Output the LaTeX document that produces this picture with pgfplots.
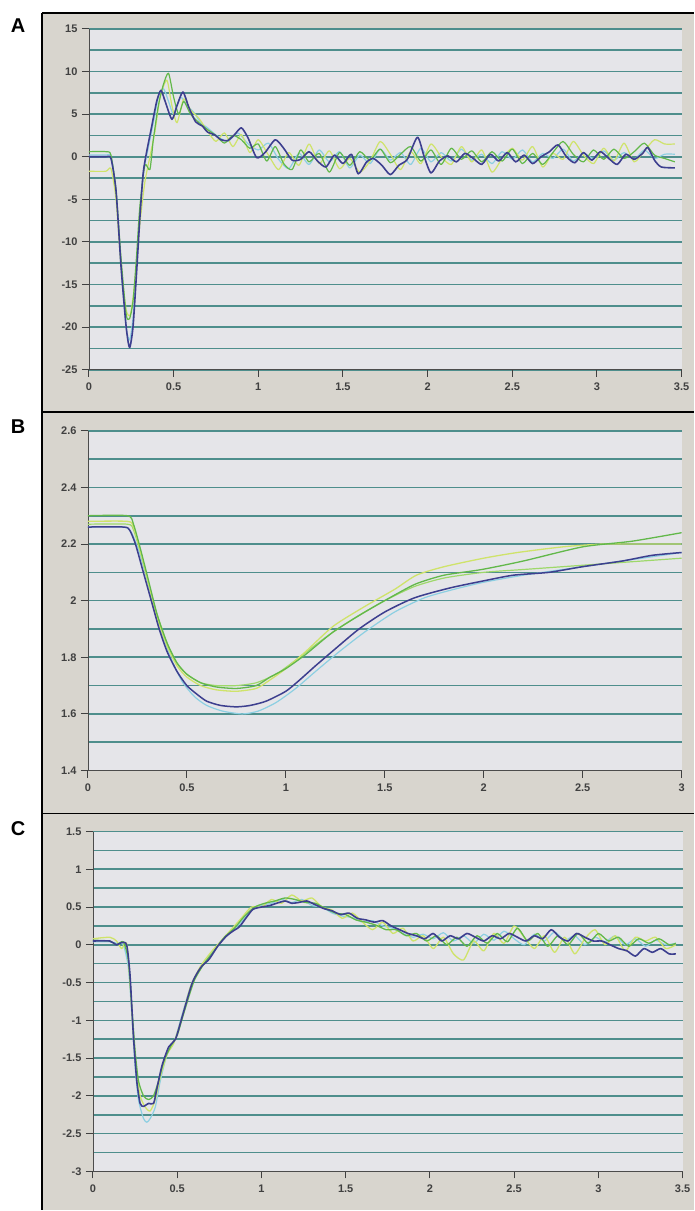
\documentclass[border=0pt]{standalone}
\usepackage{fontspec}
\setmainfont{Liberation Sans}
\usepackage{pgfplots}
\pgfplotsset{compat=1.18}

\definecolor{framebg}{HTML}{D8D5CE}
\definecolor{plotbg}{HTML}{E5E5E9}
\definecolor{gridteal}{HTML}{4E8E8C}
\definecolor{cblue}{HTML}{3D3F8F}
\definecolor{cgreen}{HTML}{62B84A}
\definecolor{cyellow}{HTML}{CFE36A}
\definecolor{clblue}{HTML}{8CCFE2}
\definecolor{clgreen}{HTML}{9ED86A}
\definecolor{ticktext}{HTML}{404040}

% 1 px of the reference = 1 pt here
\pgfplotsset{
  panel/.style={
    scale only axis,
    axis background/.style={fill=plotbg},
    axis x line*=bottom,
    axis y line*=left,
    axis line style={draw=gray!60!black, line width=0.7pt},
    tick align=outside,
    major tick length=7pt,
    minor tick length=0pt,
    tick style={draw=ticktext, line width=1pt},
    ymajorgrids, yminorgrids,
    major grid style={draw=gridteal, line width=1.6pt},
    minor grid style={draw=gridteal, line width=1.6pt},
    tick label style={font=\fontsize{11}{13}\selectfont\bfseries, text=ticktext},
    /pgf/number format/assume math mode=true,
    /pgf/number format/fixed,
    xticklabel style={yshift=-3pt},
    yticklabel style={xshift=-1pt},
    enlargelimits=false,
    clip=true,
  },
  trace/.style={no markers, smooth, tension=0.4, line join=round},
}

\begin{document}
\begin{tikzpicture}
% frame of the figure
\fill[framebg] (42pt,0pt) rectangle (694pt,-1211pt);
\fill[white] (0pt,0pt) rectangle (694pt,-13pt);
\draw[black, line width=1.6pt] (42pt,-13pt) -- (694pt,-13pt);
\draw[black, line width=1.6pt] (42pt,-412pt) -- (694pt,-412pt);
\draw[black, line width=1.6pt] (42pt,-814pt) -- (694pt,-814pt);
\draw[black, line width=1.4pt] (42pt,-13pt) -- (42pt,-1211pt);
\node[font=\fontsize{20}{22}\selectfont\bfseries] at (18pt,-26pt) {A};
\node[font=\fontsize{20}{22}\selectfont\bfseries] at (18pt,-427pt) {B};
\node[font=\fontsize{20}{22}\selectfont\bfseries] at (18pt,-829pt) {C};

% ---------- A ----------
\begin{axis}[panel, at={(89pt,-29pt)}, anchor=north west, width=593pt, height=341pt,
  xmin=0, xmax=3.5, ymin=-25, ymax=15,
  xtick={0,0.5,...,3.5}, ytick={-25,-20,...,15},
  minor ytick={-22.5,-17.5,...,12.5}]
\addplot[trace, clblue, line width=1.2pt] coordinates {
(0,0.2)(0.1,0.2)(0.13,0)(0.16,-4)(0.19,-13)(0.22,-20)(0.24,-21.5)(0.26,-19)(0.28,-13)(0.30,-7)(0.32,-2)(0.35,1)(0.38,4)(0.41,7)(0.44,8)(0.47,6.5)(0.50,5)(0.54,7)(0.58,6)(0.62,5.2)(0.66,4)(0.70,3.4)(0.76,2.4)(0.82,1.8)(0.88,2.8)(0.94,1.5)(1.0,0.8)(1.06,1.6)(1.12,-0.3)(1.18,-1.4)(1.24,0.4)(1.30,-0.9)(1.36,0.8)(1.42,-0.6)(1.48,0.6)(1.54,-1.3)(1.60,0.2)(1.66,-0.8)(1.72,0.9)(1.78,-0.4)(1.84,0.5)(1.90,-0.9)(1.96,1.0)(2.02,-0.6)(2.08,0.5)(2.14,-0.5)(2.20,0.9)(2.26,-0.4)(2.32,0.3)(2.38,-0.8)(2.44,0.6)(2.50,-0.3)(2.56,0.8)(2.62,-0.6)(2.68,0.4)(2.74,-0.2)(2.80,0.9)(2.86,-0.5)(2.92,0.4)(2.98,-0.2)(3.04,0.7)(3.10,-0.4)(3.16,0.5)(3.22,-0.3)(3.28,0.8)(3.34,-0.2)(3.40,0.3)(3.46,0.3)};
\addplot[trace, cyellow, line width=1.2pt] coordinates {
(0,-1.7)(0.1,-1.7)(0.13,-1.4)(0.16,-5)(0.19,-13)(0.22,-18)(0.245,-18.5)(0.27,-15)(0.30,-8)(0.33,-3)(0.36,0.0)(0.39,3)(0.42,7)(0.46,9)(0.49,6)(0.52,4.0)(0.56,6.8)(0.60,5.5)(0.65,4.5)(0.70,3)(0.75,1.8)(0.80,2.8)(0.85,1.2)(0.90,2.6)(0.95,0.5)(1.0,2.0)(1.06,0.2)(1.12,-1.5)(1.18,0.5)(1.24,-1.0)(1.30,1.5)(1.36,-0.8)(1.42,0.7)(1.48,-1.4)(1.54,-0.2)(1.60,-1.8)(1.66,-0.5)(1.72,1.8)(1.78,0.3)(1.84,-1.5)(1.90,0.6)(1.96,-0.8)(2.02,1.5)(2.08,0.0)(2.14,-0.9)(2.20,1.2)(2.26,-0.6)(2.32,0.8)(2.38,-1.8)(2.44,-0.2)(2.50,1.0)(2.56,-0.4)(2.62,1.2)(2.68,-1.2)(2.74,0.4)(2.80,-0.3)(2.86,1.8)(2.92,0.2)(2.98,-0.8)(3.04,1.0)(3.10,-0.5)(3.16,1.6)(3.22,-0.6)(3.28,0.7)(3.34,2.0)(3.40,1.5)(3.46,1.5)};
\addplot[trace, cgreen, line width=1.2pt] coordinates {
(0,0.6)(0.1,0.6)(0.13,0.2)(0.16,-4)(0.19,-12)(0.22,-18.5)(0.24,-19)(0.26,-17)(0.28,-12)(0.30,-6)(0.33,-1)(0.36,-1.5)(0.38,2)(0.41,6)(0.44,8.5)(0.47,9.8)(0.50,7)(0.53,5)(0.56,6.5)(0.60,5)(0.65,4)(0.70,3.2)(0.75,2.5)(0.80,1.6)(0.85,2.5)(0.90,2.0)(0.95,1.0)(1.0,1.5)(1.05,-0.5)(1.10,1.2)(1.15,-0.8)(1.20,-1.5)(1.25,0.8)(1.30,-0.6)(1.36,0.4)(1.42,-1.8)(1.48,0.5)(1.54,-1.0)(1.60,0.6)(1.66,-0.4)(1.72,0.9)(1.78,-0.7)(1.84,0.3)(1.90,1.2)(1.96,-0.5)(2.02,0.8)(2.08,-0.9)(2.14,1.0)(2.20,-0.3)(2.26,0.7)(2.32,-0.6)(2.38,0.6)(2.44,-0.5)(2.50,0.9)(2.56,-0.8)(2.62,0.4)(2.68,-0.9)(2.74,0.5)(2.80,1.8)(2.86,0.3)(2.92,-0.6)(2.98,0.8)(3.04,-0.3)(3.10,0.9)(3.16,-0.2)(3.22,0.6)(3.28,1.6)(3.34,0.2)(3.40,-0.2)(3.46,-0.6)};
\addplot[trace, cblue, line width=1.6pt] coordinates {
(0,0)(0.1,0)(0.13,-0.2)(0.16,-4)(0.19,-13)(0.22,-20)(0.24,-22.4)(0.26,-20)(0.28,-14)(0.30,-7.4)(0.32,-2)(0.34,0.5)(0.37,3.5)(0.40,6.5)(0.425,7.8)(0.45,6.5)(0.49,4.4)(0.52,6)(0.555,7.6)(0.59,5.8)(0.63,4.1)(0.67,3.6)(0.70,2.9)(0.74,2.6)(0.78,2.0)(0.82,1.9)(0.86,2.6)(0.90,3.4)(0.94,2.2)(0.99,-0.1)(1.04,0.5)(1.10,2.0)(1.15,1.0)(1.20,-0.4)(1.25,-0.3)(1.30,0.6)(1.35,-0.5)(1.40,-1.2)(1.45,0.2)(1.50,-0.8)(1.55,0.3)(1.59,-2.0)(1.64,-0.6)(1.68,-0.2)(1.73,-1.0)(1.78,-2.1)(1.83,-1.0)(1.88,-0.3)(1.94,2.3)(1.98,0.0)(2.02,-1.9)(2.07,-0.5)(2.12,0.1)(2.17,-0.6)(2.22,0.4)(2.27,-0.2)(2.32,-0.9)(2.37,0.3)(2.42,-0.5)(2.47,0.5)(2.52,-0.6)(2.57,0.2)(2.62,-0.8)(2.67,0.0)(2.72,0.6)(2.77,1.4)(2.82,0.0)(2.87,-0.7)(2.92,0.5)(2.97,-0.4)(3.02,0.6)(3.07,-0.2)(3.12,-0.9)(3.17,0.3)(3.22,-0.3)(3.27,0.4)(3.30,1.1)(3.34,-0.4)(3.38,-1.2)(3.46,-1.3)};
\end{axis}

% ---------- B ----------
\begin{axis}[panel, at={(88pt,-431pt)}, anchor=north west, width=594pt, height=340pt,
  xmin=0, xmax=3, ymin=1.4, ymax=2.6,
  xtick={0,0.5,1,1.5,2,2.5,3}, ytick={1.4,1.6,1.8,2,2.2,2.4,2.6},
  minor ytick={1.5,1.7,1.9,2.1,2.3,2.5}]
\addplot[trace, clblue, line width=1.2pt] coordinates {
(0,2.26)(0.18,2.26)(0.22,2.24)(0.26,2.17)(0.30,2.07)(0.34,1.96)(0.38,1.87)(0.43,1.78)(0.48,1.71)(0.54,1.66)(0.60,1.63)(0.68,1.61)(0.78,1.60)(0.86,1.61)(0.95,1.64)(1.05,1.69)(1.15,1.75)(1.27,1.82)(1.40,1.89)(1.55,1.96)(1.70,2.01)(1.85,2.04)(2.0,2.065)(2.2,2.09)(2.4,2.11)(2.6,2.13)(2.8,2.15)(3.0,2.17)};
\addplot[trace, clgreen, line width=1.2pt] coordinates {
(0,2.27)(0.2,2.27)(0.23,2.25)(0.27,2.16)(0.31,2.05)(0.35,1.95)(0.40,1.85)(0.45,1.78)(0.50,1.74)(0.57,1.71)(0.65,1.70)(0.75,1.70)(0.85,1.71)(0.95,1.74)(1.05,1.79)(1.2,1.87)(1.35,1.94)(1.5,2.0)(1.65,2.05)(1.8,2.08)(2.0,2.10)(2.2,2.11)(2.4,2.12)(2.6,2.13)(2.8,2.14)(3.0,2.15)};
\addplot[trace, cyellow, line width=1.3pt] coordinates {
(0,2.28)(0.2,2.28)(0.23,2.26)(0.27,2.16)(0.31,2.05)(0.35,1.94)(0.40,1.84)(0.45,1.77)(0.50,1.73)(0.57,1.70)(0.65,1.685)(0.75,1.68)(0.85,1.69)(0.92,1.72)(1.0,1.76)(1.1,1.82)(1.24,1.91)(1.4,1.98)(1.55,2.04)(1.66,2.09)(1.8,2.12)(2.0,2.15)(2.17,2.17)(2.4,2.19)(2.6,2.2)(2.8,2.2)(3.0,2.2)};
\addplot[trace, cgreen, line width=1.3pt] coordinates {
(0,2.30)(0.2,2.30)(0.23,2.27)(0.27,2.17)(0.31,2.06)(0.35,1.95)(0.40,1.85)(0.45,1.78)(0.50,1.74)(0.57,1.71)(0.65,1.695)(0.75,1.69)(0.85,1.70)(0.92,1.73)(1.0,1.76)(1.1,1.81)(1.24,1.89)(1.4,1.96)(1.55,2.02)(1.66,2.06)(1.8,2.09)(1.99,2.11)(2.2,2.14)(2.5,2.19)(2.75,2.21)(3.0,2.24)};
\addplot[trace, cblue, line width=1.5pt] coordinates {
(0,2.26)(0.18,2.26)(0.21,2.25)(0.24,2.2)(0.28,2.1)(0.32,2.0)(0.36,1.9)(0.40,1.82)(0.45,1.75)(0.50,1.70)(0.55,1.67)(0.60,1.645)(0.67,1.63)(0.75,1.625)(0.82,1.63)(0.90,1.645)(1.0,1.68)(1.07,1.72)(1.15,1.77)(1.25,1.83)(1.37,1.90)(1.5,1.96)(1.65,2.01)(1.83,2.045)(2.0,2.07)(2.15,2.09)(2.33,2.10)(2.5,2.12)(2.7,2.14)(2.85,2.16)(3.0,2.17)};
\end{axis}

% ---------- C ----------
\begin{axis}[panel, at={(93pt,-832pt)}, anchor=north west, width=590pt, height=340pt,
  xmin=0, xmax=3.5, ymin=-3, ymax=1.5,
  xtick={0,0.5,...,3.5}, ytick={-3,-2.5,...,1.5},
  minor ytick={-2.75,-2.25,...,1.25}]
\addplot[trace, clblue, line width=1.2pt] coordinates {
(0,0.04)(0.1,0.04)(0.14,0.02)(0.18,0.0)(0.21,-0.3)(0.23,-0.9)(0.25,-1.6)(0.27,-2.05)(0.30,-2.3)(0.32,-2.35)(0.34,-2.3)(0.37,-2.15)(0.40,-1.8)(0.44,-1.45)(0.48,-1.3)(0.52,-1.0)(0.58,-0.55)(0.64,-0.3)(0.70,-0.12)(0.76,0.05)(0.82,0.17)(0.88,0.3)(0.94,0.45)(1.0,0.52)(1.06,0.55)(1.12,0.6)(1.18,0.56)(1.24,0.6)(1.30,0.52)(1.36,0.5)(1.42,0.42)(1.48,0.38)(1.54,0.36)(1.60,0.3)(1.66,0.32)(1.72,0.25)(1.78,0.22)(1.84,0.15)(1.90,0.1)(1.96,0.14)(2.02,0.08)(2.08,0.16)(2.14,0.05)(2.20,0.12)(2.26,0.02)(2.32,0.14)(2.38,0.06)(2.44,0.18)(2.50,0.08)(2.56,0.0)(2.62,0.14)(2.68,0.05)(2.74,0.17)(2.80,0.06)(2.86,0.12)(2.92,0.0)(2.98,0.1)(3.04,0.04)(3.10,0.12)(3.16,0.0)(3.22,0.08)(3.28,-0.02)(3.34,0.06)(3.40,0.0)(3.46,0.02)};
\addplot[trace, cyellow, line width=1.3pt] coordinates {
(0,0.08)(0.1,0.1)(0.14,0.05)(0.17,-0.05)(0.2,0.02)(0.22,-0.5)(0.24,-1.2)(0.26,-1.7)(0.28,-2.0)(0.31,-2.15)(0.34,-2.2)(0.37,-2.05)(0.40,-1.75)(0.44,-1.45)(0.48,-1.3)(0.53,-0.95)(0.58,-0.55)(0.64,-0.28)(0.70,-0.1)(0.76,0.05)(0.82,0.2)(0.88,0.35)(0.94,0.5)(1.0,0.5)(1.06,0.6)(1.12,0.55)(1.18,0.66)(1.24,0.58)(1.30,0.62)(1.36,0.5)(1.42,0.46)(1.48,0.35)(1.54,0.42)(1.60,0.3)(1.66,0.2)(1.72,0.3)(1.78,0.15)(1.84,0.22)(1.90,0.05)(1.96,0.12)(2.02,-0.05)(2.08,0.1)(2.14,-0.12)(2.20,-0.2)(2.26,0.05)(2.32,-0.08)(2.38,0.15)(2.44,0.02)(2.50,0.25)(2.56,0.1)(2.62,-0.05)(2.68,0.12)(2.74,-0.1)(2.80,0.1)(2.86,-0.12)(2.92,0.08)(2.98,0.2)(3.04,0.0)(3.10,0.12)(3.16,-0.08)(3.22,0.1)(3.28,0.05)(3.34,0.1)(3.40,-0.05)(3.46,0.0)};
\addplot[trace, cgreen, line width=1.3pt] coordinates {
(0,0.06)(0.1,0.05)(0.14,0.0)(0.18,0.04)(0.21,-0.2)(0.23,-0.8)(0.25,-1.4)(0.27,-1.8)(0.30,-2.0)(0.33,-2.05)(0.36,-2.0)(0.39,-1.8)(0.42,-1.55)(0.46,-1.35)(0.50,-1.2)(0.54,-0.9)(0.60,-0.48)(0.66,-0.25)(0.72,-0.08)(0.78,0.1)(0.84,0.22)(0.90,0.38)(0.96,0.5)(1.02,0.55)(1.08,0.58)(1.14,0.62)(1.20,0.6)(1.26,0.56)(1.32,0.55)(1.38,0.48)(1.44,0.42)(1.50,0.4)(1.56,0.33)(1.62,0.3)(1.68,0.26)(1.74,0.2)(1.80,0.2)(1.86,0.12)(1.92,0.15)(1.98,0.05)(2.04,0.12)(2.10,0.0)(2.16,0.1)(2.22,-0.02)(2.28,0.12)(2.34,0.02)(2.40,0.15)(2.46,0.04)(2.52,0.22)(2.58,0.05)(2.64,0.15)(2.70,-0.02)(2.76,0.12)(2.82,0.0)(2.88,0.15)(2.94,0.02)(3.00,0.15)(3.06,0.05)(3.12,0.1)(3.18,-0.02)(3.24,0.08)(3.30,0.02)(3.36,0.08)(3.42,0.0)(3.46,0.02)};
\addplot[trace, cblue, line width=1.6pt] coordinates {
(0,0.05)(0.1,0.05)(0.14,0.0)(0.17,0.03)(0.2,0.0)(0.22,-0.4)(0.24,-1.2)(0.26,-1.8)(0.28,-2.1)(0.30,-2.14)(0.33,-2.1)(0.36,-2.1)(0.38,-1.9)(0.41,-1.6)(0.45,-1.35)(0.49,-1.25)(0.53,-0.95)(0.59,-0.5)(0.64,-0.3)(0.69,-0.19)(0.74,-0.02)(0.79,0.11)(0.83,0.18)(0.87,0.24)(0.91,0.36)(0.95,0.47)(1.0,0.5)(1.05,0.52)(1.09,0.55)(1.14,0.58)(1.18,0.55)(1.22,0.56)(1.27,0.58)(1.32,0.53)(1.37,0.48)(1.42,0.45)(1.47,0.4)(1.52,0.42)(1.57,0.35)(1.62,0.33)(1.67,0.3)(1.72,0.32)(1.77,0.25)(1.82,0.2)(1.87,0.15)(1.92,0.12)(1.97,0.08)(2.02,0.15)(2.07,0.05)(2.12,0.12)(2.17,0.08)(2.22,0.15)(2.27,0.1)(2.32,0.05)(2.37,0.12)(2.42,0.08)(2.47,0.15)(2.52,0.1)(2.57,0.05)(2.62,0.12)(2.67,0.08)(2.72,0.2)(2.77,0.1)(2.82,0.05)(2.87,0.15)(2.92,0.1)(2.97,0.05)(3.02,0.05)(3.07,0.0)(3.12,-0.05)(3.17,-0.08)(3.22,-0.15)(3.27,-0.05)(3.32,-0.1)(3.37,-0.05)(3.42,-0.12)(3.46,-0.12)};
\end{axis}
\end{tikzpicture}
\end{document}
